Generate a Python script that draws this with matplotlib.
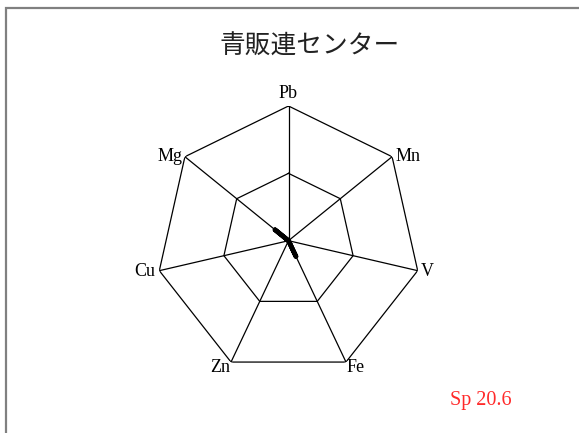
import numpy as np
import matplotlib
matplotlib.use("Agg")
import matplotlib.pyplot as plt
from matplotlib.patches import Rectangle

title = "青販連センター"
categories = ["Pb", "Mn", "V", "Fe", "Zn", "Cu", "Mg"]
values = [0.0, 0.0, 0.0, 0.13, 0.0, 0.0, 0.13]
grid_levels = [0.5, 1.0]
note = "Sp 20.6"

W, H = 579, 433
fig = plt.figure(figsize=(W / 100, H / 100), dpi=100)
fig.patch.set_facecolor("white")

# partial frame (top and left edges visible)
fig.add_artist(Rectangle((5.5 / W, -0.1), 1.2, (H - 7.5) / H + 0.1,
                         transform=fig.transFigure, fill=False,
                         edgecolor="#808080", linewidth=1.6))

cx, cy, rx, ry = 288.5, 240.7, 132.5, 134.7
ax = fig.add_axes([(cx - rx) / W, (H - cy - ry) / H, 2 * rx / W, 2 * ry / H],
                  projection="polar")
ax.set_aspect("auto")
ax.set_theta_offset(np.pi / 2)
ax.set_theta_direction(-1)
ax.set_ylim(0, 1)
ax.grid(False)
ax.spines["polar"].set_visible(False)
ax.set_xticks([])
ax.set_yticks([])
ax.patch.set_alpha(0)

n = len(categories)
theta = np.arange(n) * 2 * np.pi / n
theta_c = np.append(theta, theta[0])

for lv in grid_levels:
    ax.plot(theta_c, [lv] * (n + 1), color="black", lw=0.9)
for t in theta:
    ax.plot([t, t], [0, 1], color="black", lw=0.9)

vals_c = np.append(values, values[0])
ax.plot(theta_c, vals_c, color="black", lw=3.4, solid_capstyle="round",
        solid_joinstyle="round")

label_fmt = {
    "Pb": dict(ha="center", va="bottom", off=(0, 4)),
    "Mn": dict(ha="left", va="center", off=(3, 0)),
    "V": dict(ha="left", va="center", off=(3, -1)),
    "Fe": dict(ha="left", va="center", off=(1, -5)),
    "Zn": dict(ha="right", va="center", off=(-1, -5)),
    "Cu": dict(ha="right", va="center", off=(-4, -1)),
    "Mg": dict(ha="right", va="center", off=(-2, 0)),
}
for t, c in zip(theta, categories):
    f = label_fmt[c]
    ax.annotate(c, xy=(t, 1.0), xytext=f["off"], textcoords="offset pixels",
                ha=f["ha"], va=f["va"], fontsize=13,
                family=["Liberation Serif", "DejaVu Serif"], color="black",
                annotation_clip=False)

fig.text(310 / W, 1 - 47 / H, title, ha="center", va="center",
         fontsize=18.5, family=["Noto Sans CJK JP", "DejaVu Sans"], color="#222222")
fig.text(481 / W, 1 - 401 / H, note, ha="center", va="center",
         fontsize=14.5, family=["Liberation Serif", "DejaVu Serif"], color="#ff2a2a")

fig.savefig("out.png", dpi=100, facecolor="white")
